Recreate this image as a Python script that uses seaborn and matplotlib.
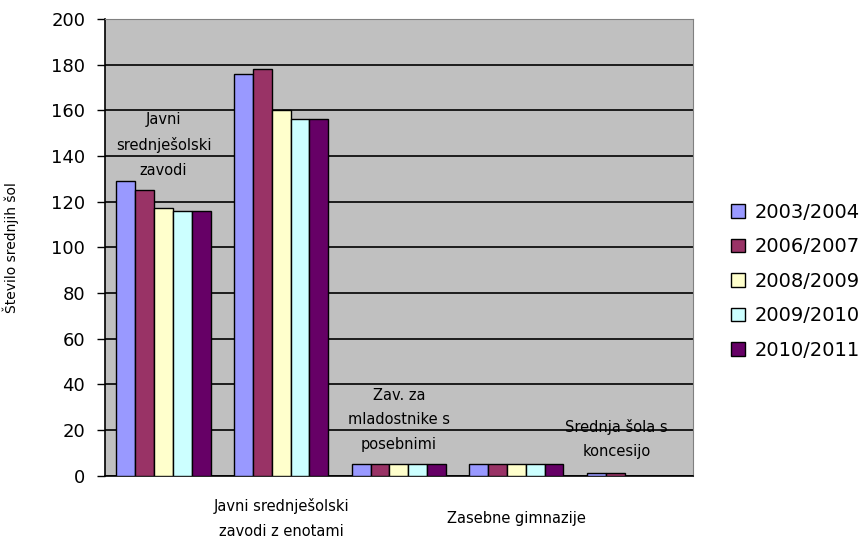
import matplotlib
matplotlib.use("Agg")
import matplotlib.pyplot as plt
from matplotlib.patches import Patch
import pandas as pd
import seaborn as sns

categories = [
    "Javni srednješolski zavodi",
    "Javni srednješolski zavodi z enotami",
    "Zav. za mladostnike s posebnimi",
    "Zasebne gimnazije",
    "Srednja šola s koncesijo",
]
years = ["2003/2004", "2006/2007", "2008/2009", "2009/2010", "2010/2011"]
values_2003 = [129, 176, 5, 5, 1]
values_2006 = [125, 178, 5, 5, 1]
values_2008 = [117, 160, 5, 5, 0]
values_2009 = [116, 156, 5, 5, 0]
values_2010 = [116, 156, 5, 5, 0]
colors = ["#9999FF", "#993366", "#FFFFCC", "#CCFFFF", "#660066"]

series = [values_2003, values_2006, values_2008, values_2009, values_2010]
rows = []
for year, vals in zip(years, series):
    for cat, v in zip(categories, vals):
        rows.append({"kategorija": cat, "leto": year, "stevilo": v})
df = pd.DataFrame(rows)

sns.set_style("white")
plt.rcParams["font.family"] = ["DejaVu Sans"]
plt.rcParams["text.color"] = "black"
plt.rcParams["axes.labelcolor"] = "black"
plt.rcParams["ytick.color"] = "black"

fig = plt.figure(figsize=(8.65, 5.40), dpi=100)
ax = fig.add_axes([0.121, 0.119, 0.680, 0.846])
ax.set_facecolor("#C0C0C0")

sns.barplot(data=df, x="kategorija", y="stevilo", hue="leto",
            palette=colors, saturation=1, edgecolor="black", linewidth=1,
            width=0.8, ax=ax, legend=False, zorder=3)

ax.set_ylim(0, 200)
ax.set_xlim(-0.5, 4.5)
ax.set_yticks(range(0, 201, 20))
ax.yaxis.grid(True, color="black", linewidth=1.2, zorder=1)
ax.set_axisbelow(True)
ax.tick_params(axis="y", direction="out", length=6, width=1, color="black",
               labelsize=13, pad=8, left=True, labelcolor="black")
ax.tick_params(axis="x", length=0, labelbottom=False)
ax.set_xlabel("")
ax.set_ylabel("Število srednjih šol", fontsize=10, color="black")
ax.yaxis.set_label_coords(-0.145, 0.5)

for side in ["top", "right"]:
    ax.spines[side].set_color("#808080")
for side in ["left", "bottom"]:
    ax.spines[side].set_color("black")
    ax.spines[side].set_linewidth(1.2)

# Excel-like staggered category labels
lab_kw = dict(ha="center", va="center", fontsize=10.5, linespacing=1.8,
              color="black", clip_on=False, zorder=5)
ax.text(0.0, 145, "Javni\nsrednješolski\nzavodi", **lab_kw)
ax.text(1.0, -18.8, "Javni srednješolski\nzavodi z enotami", **lab_kw)
ax.text(2.0, 24.5, "Zav. za\nmladostnike s\nposebnimi", **lab_kw)
ax.text(3.0, -18.8, "Zasebne gimnazije", **lab_kw)
ax.text(3.85, 16, "Srednja šola s\nkoncesijo", **lab_kw)

handles = [Patch(facecolor=c, edgecolor="black", linewidth=1) for c in colors]
fig.legend(handles, years, loc="center left", bbox_to_anchor=(0.825, 0.479),
           frameon=False, fontsize=14, handlelength=0.7, handleheight=0.7,
           handletextpad=0.5, labelspacing=0.8, labelcolor="black")

fig.savefig("out.png", dpi=100)
